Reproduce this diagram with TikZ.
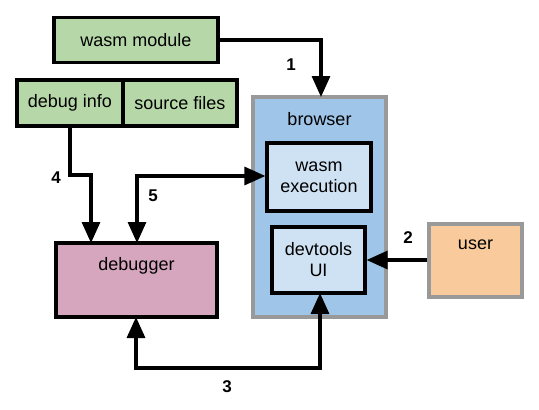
\documentclass[tikz,border=0pt]{standalone}
\usepackage{fontspec}
\setmainfont{Liberation Sans}
\usetikzlibrary{arrows.meta}
\definecolor{gfill}{HTML}{B6D7A8}
\definecolor{bfill}{HTML}{9FC5E8}
\definecolor{ifill}{HTML}{CFE2F3}
\definecolor{ufill}{HTML}{F9CB9C}
\definecolor{dfill}{HTML}{D5A6BD}
\definecolor{gborder}{HTML}{999999}
\tikzset{
  box/.style={draw=black, line width=3.2pt, rectangle, inner sep=0pt, font=\fontsize{18}{21}\selectfont, align=center},
  gbox/.style={draw=gborder, line width=3.2pt, rectangle, inner sep=0pt},
  txt/.style={font=\fontsize{18}{21}\selectfont, align=center, inner sep=0pt},
  num/.style={font=\fontsize{17}{19}\selectfont\bfseries, inner sep=0pt},
  conn/.style={line width=3.2pt, -{Triangle[length=21pt,width=18pt]}},
  conn2/.style={line width=3.2pt, {Triangle[length=21pt,width=18pt]}-{Triangle[length=21pt,width=18pt]}}
}
\begin{document}
\begin{tikzpicture}[x=1pt,y=-1pt]
\useasboundingbox (0,0) rectangle (539,410);
% browser
\node[gbox, fill=bfill, minimum width=133pt, minimum height=220pt] (browser) at (319.5,207) {};
\node[txt] (browserlbl) at (319.5,119) {browser};
\node[box, fill=ifill, minimum width=104pt, minimum height=68pt] (exec) at (319,177) {wasm\\execution};
\node[box, fill=ifill, minimum width=93pt, minimum height=66pt] (devt) at (318.5,260) {devtools\\UI};
% user
\node[gbox, fill=ufill, minimum width=93pt, minimum height=73pt] (user) at (475.5,260.5) {};
\node[txt] (userlbl) at (475.5,245) {user};
% green boxes
\node[box, fill=gfill, minimum width=164pt, minimum height=45pt] (wasm) at (136,40) {wasm module};
\node[box, fill=gfill, minimum width=106pt, minimum height=46pt] (dinfo) at (70,103) {debug info};
\node[box, fill=gfill, minimum width=114pt, minimum height=46pt] (src) at (180,103) {source files};
% debugger
\node[box, fill=dfill, minimum width=161pt, minimum height=74pt] (dbg) at (136.5,280) {};
\node[txt] (dbglbl) at (136.5,266) {debugger};
% connectors
\coordinate (c1) at (321,40);
\draw[conn] (wasm.east) -- (c1) -- (321,97);
\node[num] (n1) at (291,65) {1};
\draw[conn] (user.west |- devt.east) -- (devt.east);
\node[num] (n2) at (408,238) {2};
\coordinate (c3a) at (136,368);
\coordinate (c3b) at (320,368);
\draw[conn2] (136,317) -- (c3a) -- (c3b) -- (320,293);
\node[num] (n3) at (227,387) {3};
\coordinate (c4a) at (70,175);
\coordinate (c4b) at (91,175);
\draw[conn] (dinfo.south) -- (c4a) -- (c4b) -- (91,243);
\node[num] (n4) at (56,178) {4};
\coordinate (c5) at (137,176);
\draw[conn2] (137,243) -- (c5) -- (exec.west |- c5);
\node[num] (n5) at (153,196) {5};
\end{tikzpicture}
\end{document}
